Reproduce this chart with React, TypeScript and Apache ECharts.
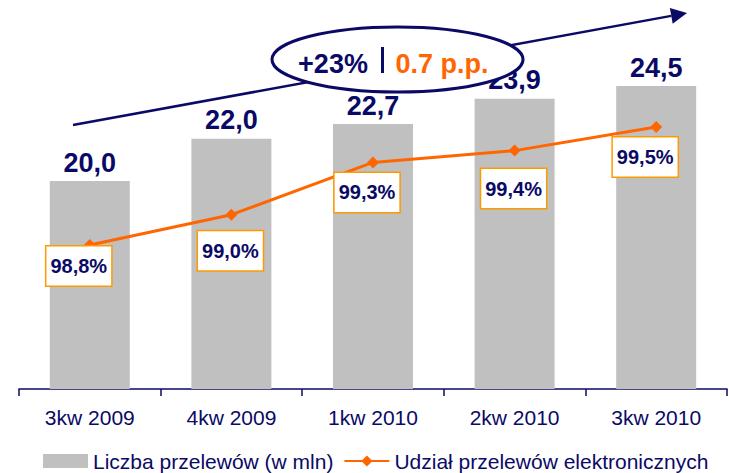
import React, { useEffect, useRef } from "react";
import * as echarts from "echarts";

const categories = ["3kw 2009", "4kw 2009", "1kw 2010", "2kw 2010", "3kw 2010"];
const transferCounts = [20.0, 22.0, 22.7, 23.9, 24.5];
const electronicShare = [98.8, 98.98, 99.29, 99.36, 99.5];
const barSeriesName = "Liczba przelewów (w mln)";
const lineSeriesName = "Udział przelewów elektronicznych";
const calloutLeft = "+23%";
const calloutRight = "0.7 p.p.";

// label box offsets (layout only)
const shareLabelOffsets = [[-11, 21], [-1, 36], [-6, 30], [-1, 38], [-11, 30]];

const NAVY = "#0A0A66";
const ORANGE = "#FF6600";
const FONT = "'Liberation Sans', Arial, sans-serif";

const fmt = (v: number, d: number) => v.toFixed(d).replace(".", ",");

export default function App() {
  const ref = useRef<HTMLDivElement>(null);
  useEffect(() => {
    if (!ref.current) return;
    const chart = echarts.init(ref.current, null, { renderer: "svg" });
    const dir = [614, -112];
    const len = Math.hypot(dir[0], dir[1]);
    const ux = dir[0] / len, uy = dir[1] / len;
    const tip = [687, 13];
    const bx = tip[0] - 16 * ux, by = tip[1] - 16 * uy;
    const px = -uy, py = ux;
    chart.setOption({
      animation: false,
      textStyle: { fontFamily: FONT },
      grid: { left: 19, right: 2, top: 9, bottom: 84, containLabel: false },
      legend: {
        left: 43,
        top: 448,
        itemWidth: 45,
        itemHeight: 14,
        itemGap: 10,
        padding: 0,
        textStyle: { fontSize: 21, color: NAVY, fontFamily: FONT, lineHeight: 26 },
        data: [{ name: barSeriesName, icon: "rect" }, { name: lineSeriesName }],
      },
      xAxis: {
        type: "category",
        data: categories,
        axisLine: { lineStyle: { color: NAVY, width: 1.5 } },
        axisTick: { show: true, length: 7, lineStyle: { color: NAVY, width: 1.5 } },
        axisLabel: { fontSize: 21, color: NAVY, margin: 18, fontFamily: FONT },
      },
      yAxis: [
        { type: "value", min: 10.15, max: 28.15, show: false, splitLine: { show: false } },
        { type: "value", min: 97.946, max: 100.2, show: false, splitLine: { show: false } },
      ],
      series: [
        {
          name: barSeriesName,
          type: "bar",
          data: transferCounts,
          barWidth: 80,
          itemStyle: { color: "#C0C0C0" },
          label: {
            show: true,
            position: "top",
            distance: 5,
            fontSize: 27,
            fontWeight: "bold",
            color: NAVY,
            fontFamily: FONT,
            formatter: (p: any) => fmt(p.value, 1),
          },
          z: 1,
        },
        {
          name: lineSeriesName,
          type: "line",
          yAxisIndex: 1,
          data: electronicShare.map((v, i) => ({
            value: v,
            label: { offset: shareLabelOffsets[i] },
          })),
          symbol: "diamond",
          symbolSize: 12,
          lineStyle: { color: ORANGE, width: 3 },
          itemStyle: { color: ORANGE },
          label: {
            show: true,
            position: "inside",
            fontSize: 20,
            fontWeight: "bold",
            color: NAVY,
            fontFamily: FONT,
            backgroundColor: "#FFFFFF",
            borderColor: "#FF9900",
            borderWidth: 1.5,
            padding: [9, 4, 8, 4],
            lineHeight: 22,
            formatter: (p: any) => fmt(p.value, 1) + "%",
          },
          z: 3,
        },
      ],
      graphic: [
        {
          type: "line",
          z: 50,
          shape: { x1: 73, y1: 125, x2: bx, y2: by },
          style: { stroke: NAVY, lineWidth: 2.5 },
        },
        {
          type: "polygon",
          z: 50,
          shape: {
            points: [
              tip,
              [bx + 8 * px, by + 8 * py],
              [bx - 8 * px, by - 8 * py],
            ],
          },
          style: { fill: NAVY },
        },
        {
          type: "ellipse",
          z: 60,
          shape: { cx: 397.5, cy: 59.5, rx: 125.5, ry: 32.5 },
          style: { fill: "#FFFFFF", stroke: NAVY, lineWidth: 3 },
        },
        {
          type: "text",
          z: 70,
          x: 333,
          y: 64,
          style: {
            text: calloutLeft,
            fill: NAVY,
            font: `bold 27px ${FONT}`,
            align: "center",
            verticalAlign: "middle",
          },
        },
        {
          type: "rect",
          z: 70,
          shape: { x: 381, y: 47, width: 3, height: 26 },
          style: { fill: NAVY },
        },
        {
          type: "text",
          z: 70,
          x: 442,
          y: 64,
          style: {
            text: calloutRight,
            fill: ORANGE,
            font: `bold 27px ${FONT}`,
            align: "center",
            verticalAlign: "middle",
          },
        },
      ],
    });
    return () => chart.dispose();
  }, []);
  return (
    <div
      ref={ref}
      style={{ position: "fixed", left: 0, top: 0, width: 729, height: 473, background: "#FFFFFF" }}
    />
  );
}
